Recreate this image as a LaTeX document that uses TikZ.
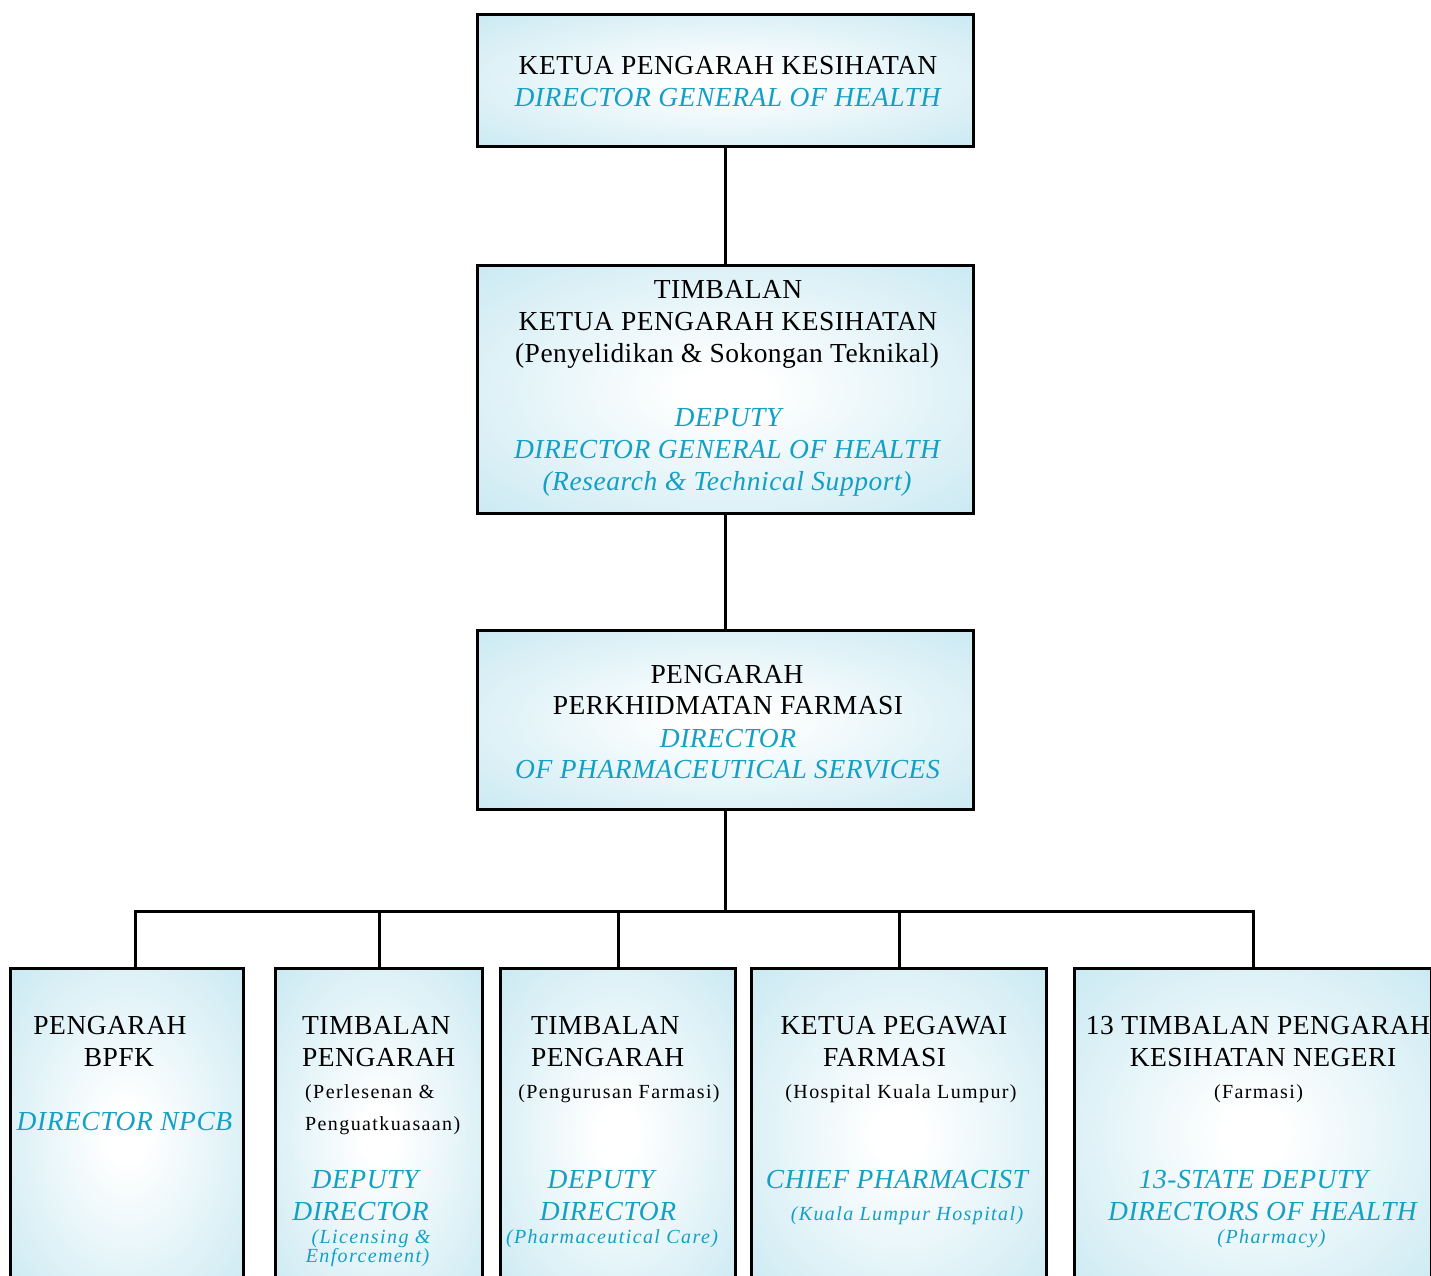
\documentclass[tikz,border=0pt]{standalone}
\usepackage{fontspec}
\setmainfont{Liberation Serif}
\usepackage{xcolor}
\usepackage{tikz}
\usetikzlibrary{calc, positioning}
\definecolor{boxedge}{RGB}{182,225,237}
\definecolor{engcyan}{RGB}{20,160,196}
\pgfdeclareradialshading{boxglow}{\pgfpoint{0bp}{0bp}}{color(0bp)=(white); color(4bp)=(white); color(48bp)=(boxedge); color(72bp)=(boxedge)}
\tikzset{
    orgbox/.style={rectangle, draw=black, line width=3pt, shading=boxglow, inner sep=0pt},
    link/.style={draw=black, line width=3pt},
    malay/.style={font=\fontsize{27.5}{32}\selectfont\addfontfeature{LetterSpace=1.7}, anchor=base, inner sep=0pt},
    english/.style={font=\fontsize{27.5}{32}\selectfont\itshape\addfontfeature{LetterSpace=2}, text=engcyan, anchor=base, inner sep=0pt},
    malaysub/.style={font=\fontsize{20}{24}\selectfont\addfontfeature{LetterSpace=7}, anchor=base, inner sep=0pt},
    englishsub/.style={font=\fontsize{20}{24}\selectfont\itshape\addfontfeature{LetterSpace=7}, text=engcyan, anchor=base, inner sep=0pt}
}

\begin{document}
\begin{tikzpicture}[x=1pt, y=-1pt]
    \clip (0,0) rectangle (1431,1275);

    % Boxes
    \node[orgbox, minimum width=496pt, minimum height=132pt] (dg) at (725,80.5) {};
    \node[orgbox, minimum width=496pt, minimum height=248pt] (ddg) at (725,389.5) {};
    \node[orgbox, minimum width=496pt, minimum height=179pt] (dps) at (725,720) {};
    \node[orgbox, minimum width=233pt, minimum height=331pt] (bpfk) at (127,1134) {};
    \node[orgbox, minimum width=207pt, minimum height=331pt] (lic) at (379,1134) {};
    \node[orgbox, minimum width=235pt, minimum height=331pt] (care) at (618,1134) {};
    \node[orgbox, minimum width=295pt, minimum height=331pt] (hkl) at (899,1134) {};
    \node[orgbox, minimum width=357pt, minimum height=331pt] (state) at (1253,1134) {};

    % Lines
    \coordinate (busL) at (135,911);
    \coordinate (busR) at (1253,911);
    \draw[link] (dg.south) -- (ddg.north);
    \draw[link] (ddg.south) -- (dps.north);
    \draw[link] (dps.south) -- (dps.south |- busL);
    \draw[link] (busL |- bpfk.north) -- (busL) -- (busR) -- (busR |- state.north);
    \draw[link] (lic.north) -- (lic.north |- busL);
    \draw[link] (care.north) -- (care.north |- busL);
    \draw[link] (hkl.north) -- (hkl.north |- busL);

    % Director General
    \node[malay] (dg1) at (728,74) {KETUA PENGARAH KESIHATAN};
    \node[english] (dg2) at (727.5,106) {DIRECTOR GENERAL OF HEALTH};

    % Deputy Director General
    \node[malay] (ddg1) at (728,298) {TIMBALAN};
    \node[malay] (ddg2) at (728,330) {KETUA PENGARAH KESIHATAN};
    \node[malay] (ddg3) at (727,362) {(Penyelidikan \& Sokongan Teknikal)};
    \node[english] (ddg4) at (728,426) {DEPUTY};
    \node[english] (ddg5) at (727,458) {DIRECTOR GENERAL OF HEALTH};
    \node[english] (ddg6) at (727,490) {(Research \& Technical Support)};

    % Director of Pharmaceutical Services
    \node[malay] (dps1) at (727,683) {PENGARAH};
    \node[malay] (dps2) at (728,714) {PERKHIDMATAN FARMASI};
    \node[english] (dps3) at (728,747) {DIRECTOR};
    \node[english] (dps4) at (727.5,778) {OF PHARMACEUTICAL SERVICES};

    % BPFK
    \node[malay] (bpfk1) at (110,1034) {PENGARAH};
    \node[malay] (bpfk2) at (119,1066) {BPFK};
    \node[english] (bpfk3) at (124.5,1130) {DIRECTOR NPCB};

    % Licensing
    \node[malay, anchor=base west] (lic1) at (302,1034) {TIMBALAN};
    \node[malay, anchor=base west] (lic2) at (302,1066) {PENGARAH};
    \node[malaysub, anchor=base west] (lic3) at (305,1098) {(Perlesenan \&};
    \node[malaysub, anchor=base west] (lic4) at (305,1130) {Penguatkuasaan)};
    \node[english] (lic5) at (365,1188) {DEPUTY};
    \node[english] (lic6) at (360.5,1220) {DIRECTOR};
    \node[englishsub] (lic7) at (371,1243) {(Licensing \&};
    \node[englishsub] (lic8) at (367.5,1262) {Enforcement)};

    % Pharmaceutical care
    \node[malay, anchor=base west] (care1) at (531,1034) {TIMBALAN};
    \node[malay, anchor=base west] (care2) at (531,1066) {PENGARAH};
    \node[malaysub] (care3) at (619,1098) {(Pengurusan Farmasi)};
    \node[english] (care4) at (601,1188) {DEPUTY};
    \node[english] (care5) at (608,1220) {DIRECTOR};
    \node[englishsub] (care6) at (612,1243) {(Pharmaceutical Care)};

    % Hospital Kuala Lumpur
    \node[malay] (hkl1) at (894,1034) {KETUA PEGAWAI};
    \node[malay] (hkl2) at (884.5,1066) {FARMASI};
    \node[malaysub] (hkl3) at (901,1098) {(Hospital Kuala Lumpur)};
    \node[english] (hkl4) at (897,1188) {CHIEF PHARMACIST};
    \node[englishsub] (hkl5) at (907,1220) {(Kuala Lumpur Hospital)};

    % States
    \node[malay] (state1) at (1258,1034) {13 TIMBALAN PENGARAH};
    \node[malay] (state2) at (1263,1066) {KESIHATAN NEGERI};
    \node[malaysub] (state3) at (1258.5,1098) {(Farmasi)};
    \node[english] (state4) at (1253.5,1188) {13-STATE DEPUTY};
    \node[english] (state5) at (1262.5,1220) {DIRECTORS OF HEALTH};
    \node[englishsub] (state6) at (1271.5,1243) {(Pharmacy)};
\end{tikzpicture}
\end{document}
